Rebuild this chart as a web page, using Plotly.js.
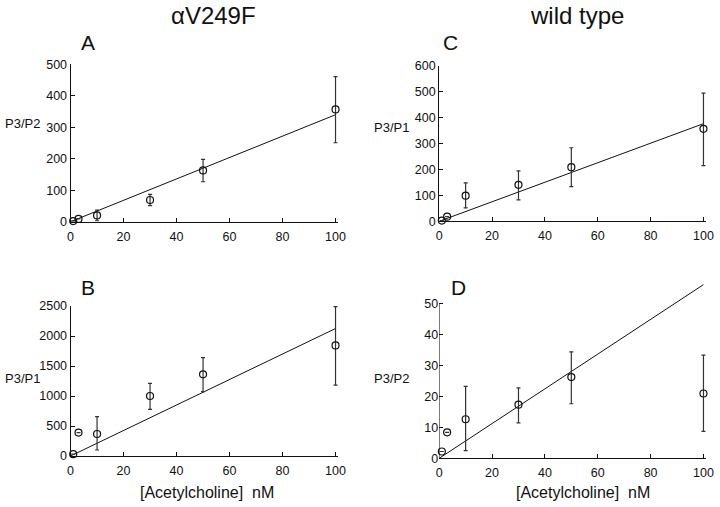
<!DOCTYPE html>
<html>
<head>
<meta charset="utf-8">
<script src="https://cdn.plot.ly/plotly-3.0.1.min.js"></script>
<style>html,body{margin:0;padding:0;background:#fff;}#chart{width:720px;height:507px;}</style>
</head>
<body>
<div id="chart"></div>
<script>
// Concentrations (nM)
const conc = [1, 3, 10, 30, 50, 100];
const fitX = [0, 100];

// Panel A: αV249F, P3/P2
const aVals = [2, 9, 20, 69, 163, 357];
const aErrUp = [0, 0, 17, 18, 35, 104];
const aErrDown = [0, 0, 17, 18, 36, 106];
const aFit = [0, 340];

// Panel B: αV249F, P3/P1
const bVals = [30, 390, 367, 1000, 1361, 1844];
const bErrUp = [0, 0, 289, 211, 278, 645];
const bErrDown = [0, 0, 267, 222, 289, 661];
const bFit = [0, 2125];

// Panel C: wild type, P3/P1
const cVals = [3, 18, 99, 141, 209, 357];
const cErrUp = [0, 0, 49, 54, 75, 138];
const cErrDown = [0, 0, 47, 58, 75, 142];
const cFit = [0, 377];

// Panel D: wild type, P3/P2
const dVals = [2.2, 8.4, 12.6, 17.3, 26.2, 20.9];
const dErrUp = [0, 0, 10.6, 5.4, 8.1, 12.4];
const dErrDown = [0, 0, 10.1, 5.9, 8.6, 12.2];
const dFit = [0, 56];

const xTicks = [0, 20, 40, 60, 80, 100];
const aTicks = [0, 100, 200, 300, 400, 500];
const bTicks = [0, 500, 1000, 1500, 2000, 2500];
const cTicks = [0, 100, 200, 300, 400, 500, 600];
const dTicks = [0, 10, 20, 30, 40, 50];

function pts(x, y, up, down, xa, ya) {
  return {
    x: x, y: y, xaxis: xa, yaxis: ya, type: 'scatter', mode: 'markers',
    cliponaxis: false,
    marker: {symbol: 'circle-open', size: 7, color: '#111', line: {width: 1.2, color: '#111'}},
    error_y: {type: 'data', symmetric: false, array: up, arrayminus: down,
      color: '#333', thickness: 1.2, width: 2}
  };
}
function fit(x, y, xa, ya) {
  return {x: x, y: y, xaxis: xa, yaxis: ya, type: 'scatter', mode: 'lines',
    line: {color: '#111', width: 1}};
}

const data = [
  fit(fitX, aFit, 'x', 'y'), pts(conc, aVals, aErrUp, aErrDown, 'x', 'y'),
  fit(fitX, bFit, 'x2', 'y2'), pts(conc, bVals, bErrUp, bErrDown, 'x2', 'y2'),
  fit(fitX, cFit, 'x3', 'y3'), pts(conc, cVals, cErrUp, cErrDown, 'x3', 'y3'),
  fit(fitX, dFit, 'x4', 'y4'), pts(conc, dVals, dErrUp, dErrDown, 'x4', 'y4')
];

const tickFont = {family: 'Liberation Sans, Arial, sans-serif', size: 12.5, color: '#111'};
function xax(dom, anchor) {
  return {domain: dom, anchor: anchor, range: [0, 101], tickvals: xTicks,
    ticks: 'inside', ticklen: 4, tickcolor: '#111', showline: true, linecolor: '#111', linewidth: 1,
    showgrid: false, zeroline: false, tickfont: tickFont, ticklabelstandoff: 3, fixedrange: true};
}
function yax(dom, anchor, range, tv, showline) {
  return {domain: dom, anchor: anchor, range: range, tickvals: tv,
    ticks: 'inside', ticklen: 4, tickcolor: '#111', showline: showline, linecolor: '#111', linewidth: 1,
    showgrid: false, zeroline: false, tickfont: tickFont, fixedrange: true};
}

const colL = [0.098, 0.4697];
const colR = [0.610, 0.9807];

const layout = {
  width: 720, height: 507,
  margin: {l: 0, r: 0, t: 0, b: 0},
  paper_bgcolor: '#fff', plot_bgcolor: '#fff',
  showlegend: false,
  font: {family: 'Liberation Sans, Arial, sans-serif', color: '#111'},
  xaxis: xax(colL, 'y'),
  yaxis: yax([0.5627, 0.873], 'x', [0, 500], aTicks, true),
  xaxis2: xax(colL, 'y2'),
  yaxis2: yax([0.1006, 0.3964], 'x2', [0, 2500], bTicks, true),
  xaxis3: xax(colR, 'y3'),
  yaxis3: yax([0.5635, 0.870], 'x3', [0, 600], cTicks, true),
  xaxis4: xax(colR, 'y4'),
  yaxis4: yax([0.096, 0.4447], 'x4', [0, 57], dTicks, false),
  shapes: [
    {type: 'line', xref: 'x4', yref: 'y4', x0: 0, x1: 0, y0: 0, y1: 50,
     line: {color: '#111', width: 1}}
  ],
  annotations: [
    {text: 'αV249F', x: 0.296, y: 1, xref: 'paper', yref: 'paper', showarrow: false, xanchor: 'center', yanchor: 'top', font: {size: 24}},
    {text: 'wild type', x: 0.801, y: 1, xref: 'paper', yref: 'paper', showarrow: false, xanchor: 'center', yanchor: 'top', font: {size: 24}},
    {text: 'A', x: 0.122, y: 0.917, xref: 'paper', yref: 'paper', showarrow: false, xanchor: 'center', yanchor: 'middle', font: {size: 21}},
    {text: 'C', x: 0.625, y: 0.917, xref: 'paper', yref: 'paper', showarrow: false, xanchor: 'center', yanchor: 'middle', font: {size: 21}},
    {text: 'B', x: 0.122, y: 0.432, xref: 'paper', yref: 'paper', showarrow: false, xanchor: 'center', yanchor: 'middle', font: {size: 21}},
    {text: 'D', x: 0.6375, y: 0.432, xref: 'paper', yref: 'paper', showarrow: false, xanchor: 'center', yanchor: 'middle', font: {size: 21}},
    {text: 'P3/P2', x: 0.0306, y: 0.757, xref: 'paper', yref: 'paper', showarrow: false, xanchor: 'center', yanchor: 'middle', font: {size: 13}},
    {text: 'P3/P1', x: 0.544, y: 0.748, xref: 'paper', yref: 'paper', showarrow: false, xanchor: 'center', yanchor: 'middle', font: {size: 13}},
    {text: 'P3/P1', x: 0.0306, y: 0.254, xref: 'paper', yref: 'paper', showarrow: false, xanchor: 'center', yanchor: 'middle', font: {size: 13}},
    {text: 'P3/P2', x: 0.544, y: 0.254, xref: 'paper', yref: 'paper', showarrow: false, xanchor: 'center', yanchor: 'middle', font: {size: 13}},
    {text: '[Acetylcholine]\u00a0\u00a0nM', x: 0.2875, y: 0.029, xref: 'paper', yref: 'paper', showarrow: false, xanchor: 'center', yanchor: 'middle', font: {size: 16}},
    {text: '[Acetylcholine]\u00a0\u00a0nM', x: 0.81, y: 0.029, xref: 'paper', yref: 'paper', showarrow: false, xanchor: 'center', yanchor: 'middle', font: {size: 16}}
  ]
};

Plotly.newPlot('chart', data, layout, {staticPlot: true, displayModeBar: false});
</script>
</body>
</html>
